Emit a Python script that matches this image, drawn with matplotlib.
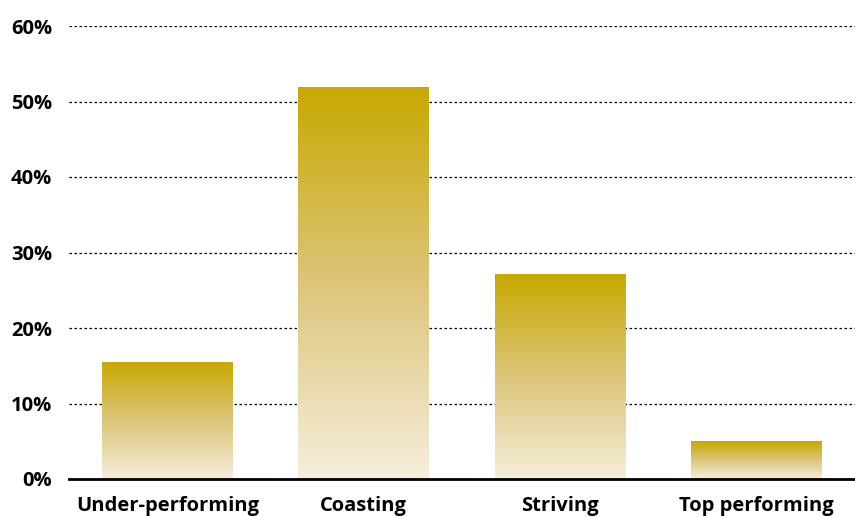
import numpy as np
import matplotlib.pyplot as plt
from matplotlib.colors import LinearSegmentedColormap
from matplotlib.ticker import PercentFormatter

categories = ['Under-performing', 'Coasting', 'Striving', 'Top performing']
shares = [15.5, 51.9, 27.2, 5.0]

plt.rcParams['font.family'] = ['Open Sans', 'DejaVu Sans']

fig = plt.figure(figsize=(8.55, 5.17), dpi=100)
ax = fig.add_axes([69 / 855, 38 / 517, 786 / 855, 453 / 517])

# gold fading to cream, per bar
cmap = LinearSegmentedColormap.from_list('gold', ['#f6eedb', '#dcc57a', '#c8a900'])
grad = np.linspace(0, 1, 256).reshape(-1, 1)

x = np.arange(len(categories))
width = 0.665
bars = ax.bar(x, shares, width=width, color='none', zorder=2)
for b in bars:
    x0, y0 = b.get_x(), b.get_y()
    im = ax.imshow(grad, cmap=cmap, origin='lower', aspect='auto',
                   extent=[x0, x0 + b.get_width(), y0, y0 + b.get_height()], zorder=2)
    im.set_clip_path(b)

ax.set_xlim(-0.5, 3.5)
ax.set_ylim(0, 60)
ax.set_yticks(range(0, 61, 10))
ax.yaxis.set_major_formatter(PercentFormatter(decimals=0))
ax.set_xticks(x)
ax.set_xticklabels(categories)

ax.grid(axis='y', linestyle=(0, (2, 2)), color='black', linewidth=0.9, zorder=1)
for s in ['top', 'right', 'left']:
    ax.spines[s].set_visible(False)
ax.spines['bottom'].set_linewidth(2)
ax.spines['bottom'].set_zorder(3)
ax.tick_params(length=0, labelsize=14.5, pad=12)
for lbl in ax.get_xticklabels() + ax.get_yticklabels():
    lbl.set_fontweight('bold')
ax.tick_params(axis='x', pad=12)

fig.savefig('out.png', dpi=100)
